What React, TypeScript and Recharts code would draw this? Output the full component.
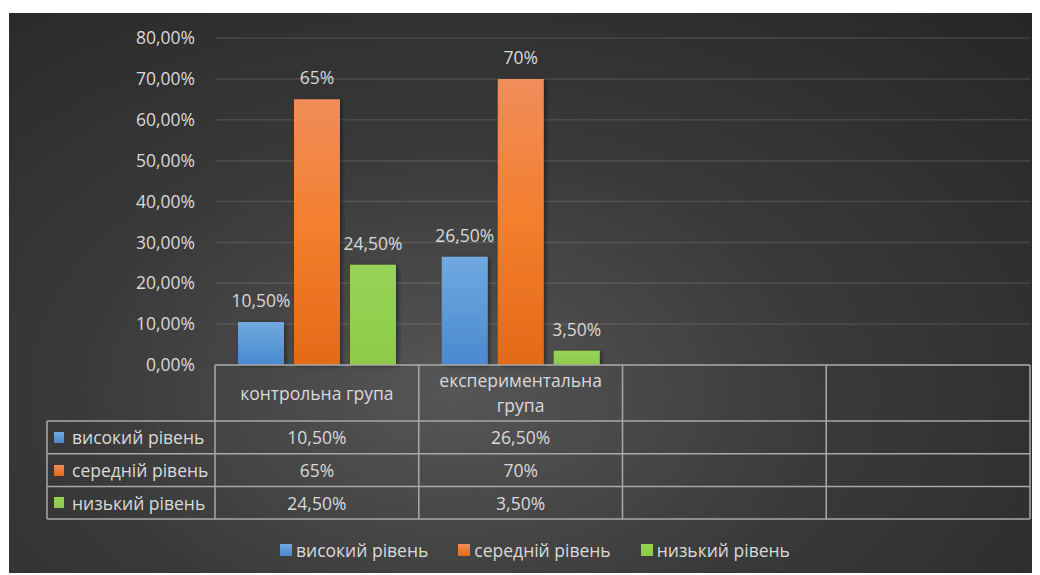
import React from 'react';
import { BarChart, Bar, XAxis, YAxis, CartesianGrid, LabelList, Legend } from 'recharts';

const categories = ['контрольна група', 'експериментальна група', '', ''];
const seriesNames = ['високий рівень', 'середній рівень', 'низький рівень'];
const seriesKeys = ['high', 'mid', 'low'];
const highValues: (number | null)[] = [10.5, 26.5, null, null];
const midValues: (number | null)[] = [65, 70, null, null];
const lowValues: (number | null)[] = [24.5, 3.5, null, null];
const seriesDecimals = [2, 0, 2];
const yTicks = [0, 10, 20, 30, 40, 50, 60, 70, 80];

const seriesGradients = [
  ['#71a9e0', '#5c9ad8', '#4a89cd'],
  ['#f08d5b', '#f47e2c', '#e36a16'],
  ['#96d356', '#92d050', '#8dca49'],
];

const allValues = [highValues, midValues, lowValues];

const data = categories.map((c, i) => ({
  cat: c,
  high: highValues[i],
  mid: midValues[i],
  low: lowValues[i],
}));

const FONT = '"Open Sans", "Noto Sans", sans-serif';
const TEXT = '#d9d9d9';
const FS = 17.5;

const fmt = (v: any, d: number) =>
  v === null || v === undefined || v === '' ? '' : Number(v).toFixed(d).replace('.', ',') + '%';

// layout
const W = 1032;
const H = 567;
const M = { top: 30, right: 10, left: 147, bottom: 210 };
const YW = 60;
const PL = M.left + YW;
const PR = W - M.right;
const COLW = (PR - PL) / categories.length;
const TABLE_TOP = H - M.bottom;
const HEADER_B = TABLE_TOP + 56;
const ROW_H = 32.7;
const LEG_L = 39;
const LINE = '#a9a9a9';

const renderLegend = () => (
  <div style={{ display: 'flex', alignItems: 'center', height: 24, fontFamily: FONT, fontSize: FS, color: TEXT, whiteSpace: 'nowrap' }}>
    {seriesNames.map((n, i) => (
      <div key={n} style={{ display: 'flex', alignItems: 'center', marginRight: i < seriesNames.length - 1 ? 30 : 0 }}>
        <div style={{ width: 12, height: 12, marginRight: 4, background: `linear-gradient(${seriesGradients[i][0]}, ${seriesGradients[i][2]})` }} />
        <span style={{ lineHeight: '24px' }}>{n}</span>
      </div>
    ))}
  </div>
);

export default function App() {
  const rowTops = seriesNames.map((_, r) => HEADER_B + r * ROW_H);
  const tableBottom = HEADER_B + seriesNames.length * ROW_H;
  return (
    <div style={{ position: 'relative', width: W, height: H }}>
      <div
        style={{
          position: 'absolute',
          left: 1,
          top: 5,
          width: W - 1,
          height: 560,
          background: 'radial-gradient(ellipse farthest-corner at 43% 68%, #565656 0%, #3a3a3a 45%, #262626 100%)',
        }}
      />
      <div style={{ position: 'absolute', left: 0, top: 0 }}>
        <BarChart width={W} height={H} data={data} margin={M} barSize={46} barGap={10}>
          <defs>
            {seriesGradients.map((g, i) => (
              <linearGradient key={i} id={`grad${i}`} x1="0" y1="0" x2="0" y2="1">
                <stop offset="0%" stopColor={g[0]} />
                <stop offset="50%" stopColor={g[1]} />
                <stop offset="100%" stopColor={g[2]} />
              </linearGradient>
            ))}
            <filter id="barShadow" x="-20%" y="-5%" width="140%" height="110%">
              <feDropShadow dx="2" dy="1" stdDeviation="2" floodColor="#000" floodOpacity="0.45" />
            </filter>
          </defs>
          <CartesianGrid vertical={false} stroke="rgba(255,255,255,0.11)" strokeWidth={1.5} />
          <XAxis dataKey="cat" hide />
          <YAxis
            width={YW}
            domain={[0, 80]}
            ticks={yTicks}
            interval={0}
            axisLine={false}
            tickLine={false}
            tickSize={0}
            tickMargin={20}
            tickFormatter={(v: number) => fmt(v, 2)}
            tick={{ fill: TEXT, fontSize: FS, fontFamily: FONT }}
          />
          {seriesKeys.map((k, i) => (
            <Bar key={k} dataKey={k} name={seriesNames[i]} fill={`url(#grad${i})`} isAnimationActive={false} filter="url(#barShadow)">
              <LabelList
                dataKey={k}
                position="top"
                offset={15}
                formatter={(v: any) => fmt(v, seriesDecimals[i])}
                style={{ fill: TEXT, fontSize: FS, fontFamily: FONT }}
              />
            </Bar>
          ))}
          <Legend
            layout="horizontal"
            verticalAlign="middle"
            align="center"
            content={renderLegend}
            wrapperStyle={{ left: 272, top: 530, width: 'auto', height: 24 }}
          />
        </BarChart>
      </div>

      {/* data table */}
      <svg width={W} height={H} style={{ position: 'absolute', left: 0, top: 0, pointerEvents: 'none' }}>
        <line x1={PL} x2={PR} y1={TABLE_TOP} y2={TABLE_TOP} stroke={LINE} strokeWidth={1.5} />
        {[HEADER_B, ...rowTops.map((t) => t + ROW_H)].map((y, i) => (
          <line key={'h' + i} x1={LEG_L} x2={PR} y1={y} y2={y} stroke={LINE} strokeWidth={1.5} />
        ))}
        <line x1={LEG_L} x2={LEG_L} y1={HEADER_B} y2={tableBottom} stroke={LINE} strokeWidth={1.5} />
        {categories.map((_, i) => i).concat([categories.length]).map((k) => (
          <line key={'v' + k} x1={PL + k * COLW} x2={PL + k * COLW} y1={TABLE_TOP} y2={tableBottom} stroke={LINE} strokeWidth={1.5} />
        ))}
      </svg>
      {categories.map((c, i) => (
        <div
          key={'hdr' + i}
          style={{
            position: 'absolute',
            left: PL + i * COLW,
            top: TABLE_TOP,
            width: COLW,
            height: HEADER_B - TABLE_TOP,
            display: 'flex',
            alignItems: 'center',
            justifyContent: 'center',
            textAlign: 'center',
            boxSizing: 'border-box',
            padding: '0 14px',
            fontFamily: FONT,
            fontSize: FS,
            lineHeight: '25px',
            color: TEXT,
          }}
        >
          {c}
        </div>
      ))}
      {seriesNames.map((n, r) => (
        <React.Fragment key={'row' + r}>
          <div
            style={{
              position: 'absolute',
              left: LEG_L,
              top: rowTops[r],
              width: PL - LEG_L,
              height: ROW_H,
              display: 'flex',
              alignItems: 'center',
              paddingLeft: 7,
              boxSizing: 'border-box',
              fontFamily: FONT,
              fontSize: FS,
              color: TEXT,
              whiteSpace: 'nowrap',
            }}
          >
            <div style={{ width: 10, height: 11, marginRight: 8, background: `linear-gradient(${seriesGradients[r][0]}, ${seriesGradients[r][2]})` }} />
            <span>{n}</span>
          </div>
          {categories.map((_, i) => (
            <div
              key={'cell' + r + '-' + i}
              style={{
                position: 'absolute',
                left: PL + i * COLW,
                top: rowTops[r],
                width: COLW,
                height: ROW_H,
                display: 'flex',
                alignItems: 'center',
                justifyContent: 'center',
                fontFamily: FONT,
                fontSize: FS,
                color: TEXT,
              }}
            >
              {fmt(allValues[r][i], seriesDecimals[r])}
            </div>
          ))}
        </React.Fragment>
      ))}
    </div>
  );
}
